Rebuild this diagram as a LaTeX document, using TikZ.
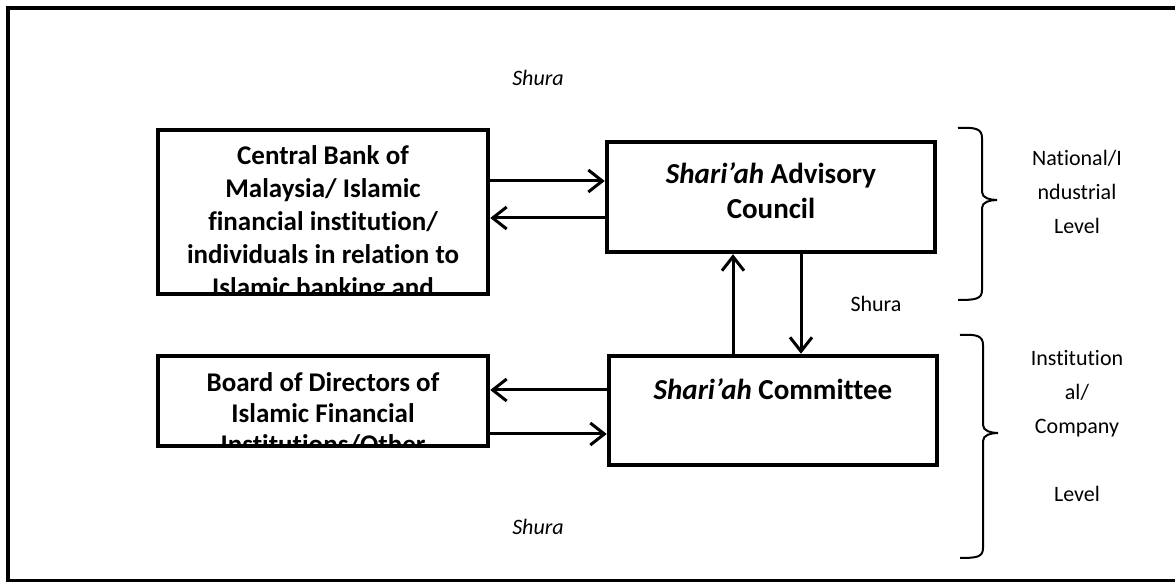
\documentclass[tikz,border=0pt]{standalone}
\usepackage{fontspec}
\setmainfont{Carlito}[Ligatures=NoCommon]
\usetikzlibrary{calc,positioning,arrows.meta}

\tikzset{
  box/.style={draw, line width=2.25pt, inner sep=0pt},
  boxtext/.style={align=center, inner sep=0pt, font=\bfseries\fontsize{13.5}{16.5}\selectfont},
  bigtext/.style={align=center, inner sep=0pt, font=\bfseries\fontsize{14.5}{17.5}\selectfont},
  arr/.style={line width=1.5pt, -{Straight Barb[length=7pt,width=11pt]}},
  lbl/.style={inner sep=0pt, font=\fontsize{11}{17}\selectfont},
  lvl/.style={lbl, align=center, anchor=north},
  brace/.style={line width=1pt}
}

\begin{document}
\begin{tikzpicture}[x=0.5pt, y=-0.5pt]
			%%%%% START %%%%%
			\clip (0,0) rectangle (1175,582);
			\draw[line width=2pt] (8,8) rectangle (1200,581);
			
			% boxes
			\node[box, minimum width=165pt, minimum height=82pt] (cbm) at (323,212) {};
			\node[box, minimum width=164pt, minimum height=55pt] (sac) at (771,197) {};
			\node[box, minimum width=165pt, minimum height=45pt] (bod) at (323,401) {};
			\node[box, minimum width=164pt, minimum height=54.5pt] (sc) at (773,410.5) {};
			
			\begin{scope}
			\clip ([xshift=2.25pt,yshift=2.25pt]cbm.south west) rectangle ([xshift=-2.25pt,yshift=-2.25pt]cbm.north east);
			\node[boxtext, below=8.5pt of cbm.north] (cbmtext) {Central Bank of\\Malaysia/ Islamic\\financial institution/\\individuals in relation to\\Islamic banking and};
			\end{scope}
			
			\begin{scope}
			\clip ([xshift=2.25pt,yshift=2.25pt]bod.south west) rectangle ([xshift=-2.25pt,yshift=-2.25pt]bod.north east);
			\node[boxtext, font=\bfseries\fontsize{13.5}{15.5}\selectfont, below=9pt of bod.north] (bodtext) {Board of Directors of\\Islamic Financial\\Institutions/Other};
			\end{scope}
			
			\node[bigtext, below=11pt of sac.north] (sactext) {\textit{Shari’ah} Advisory\\Council};
			\node[bigtext, below=12.4pt of sc.north] (sctext) {\textit{Shari’ah} Committee};
			
			% arrows
			\coordinate (ab) at ($(cbm.east)+(0,-31)$);
			\coordinate (ba) at ($(sac.west)+(0,21)$);
			\draw[arr] (ab) -- (ab -| sac.west);
			\draw[arr] (ba) -- (ba -| cbm.east);
			
			\coordinate (dc) at ($(sc.west)+(0,-20.5)$);
			\coordinate (cd) at ($(bod.east)+(0,33)$);
			\draw[arr] (dc) -- (dc -| bod.east);
			\draw[arr] (cd) -- (cd -| sc.west);
			
			\coordinate (du) at ($(sc.north)+(-40,0)$);
			\coordinate (bd) at ($(sac.south)+(30,0)$);
			\draw[arr] (du) -- (du |- sac.south);
			\draw[arr] (bd) -- (bd |- sc.north);
			
			% labels
			\node[lbl] (shuratop) at (538,78) {\itshape Shura};
			\node[lbl] (shuramid) at (876,304) {Shura};
			\node[lbl] (shurabot) at (538,527) {\itshape Shura};
			
			\node[lvl] (natlevel) at (1077,150) {National/I\\ndustrial\\Level};
			\node[lvl] (inslevel) at (1077,350) {Institution\\al/\\Company\\[17pt]Level};
			
			% braces
			\draw[brace] (958,128) .. controls (976,127) and (982,129) .. (982,138) -- (982,192)
				.. controls (982,198) and (990,200) .. (997,200)
				.. controls (990,200) and (982,202) .. (982,208) -- (982,290)
				.. controls (982,299) and (976,300) .. (958,300);
			\draw[brace] (960,335) .. controls (977,334) and (983,336) .. (983,345) -- (983,425)
				.. controls (983,431) and (991,433) .. (998,433)
				.. controls (991,433) and (983,435) .. (983,441) -- (983,548)
				.. controls (983,557) and (977,558) .. (960,558);
			
			%%%%% END %%%%%
\end{tikzpicture}
\end{document}
